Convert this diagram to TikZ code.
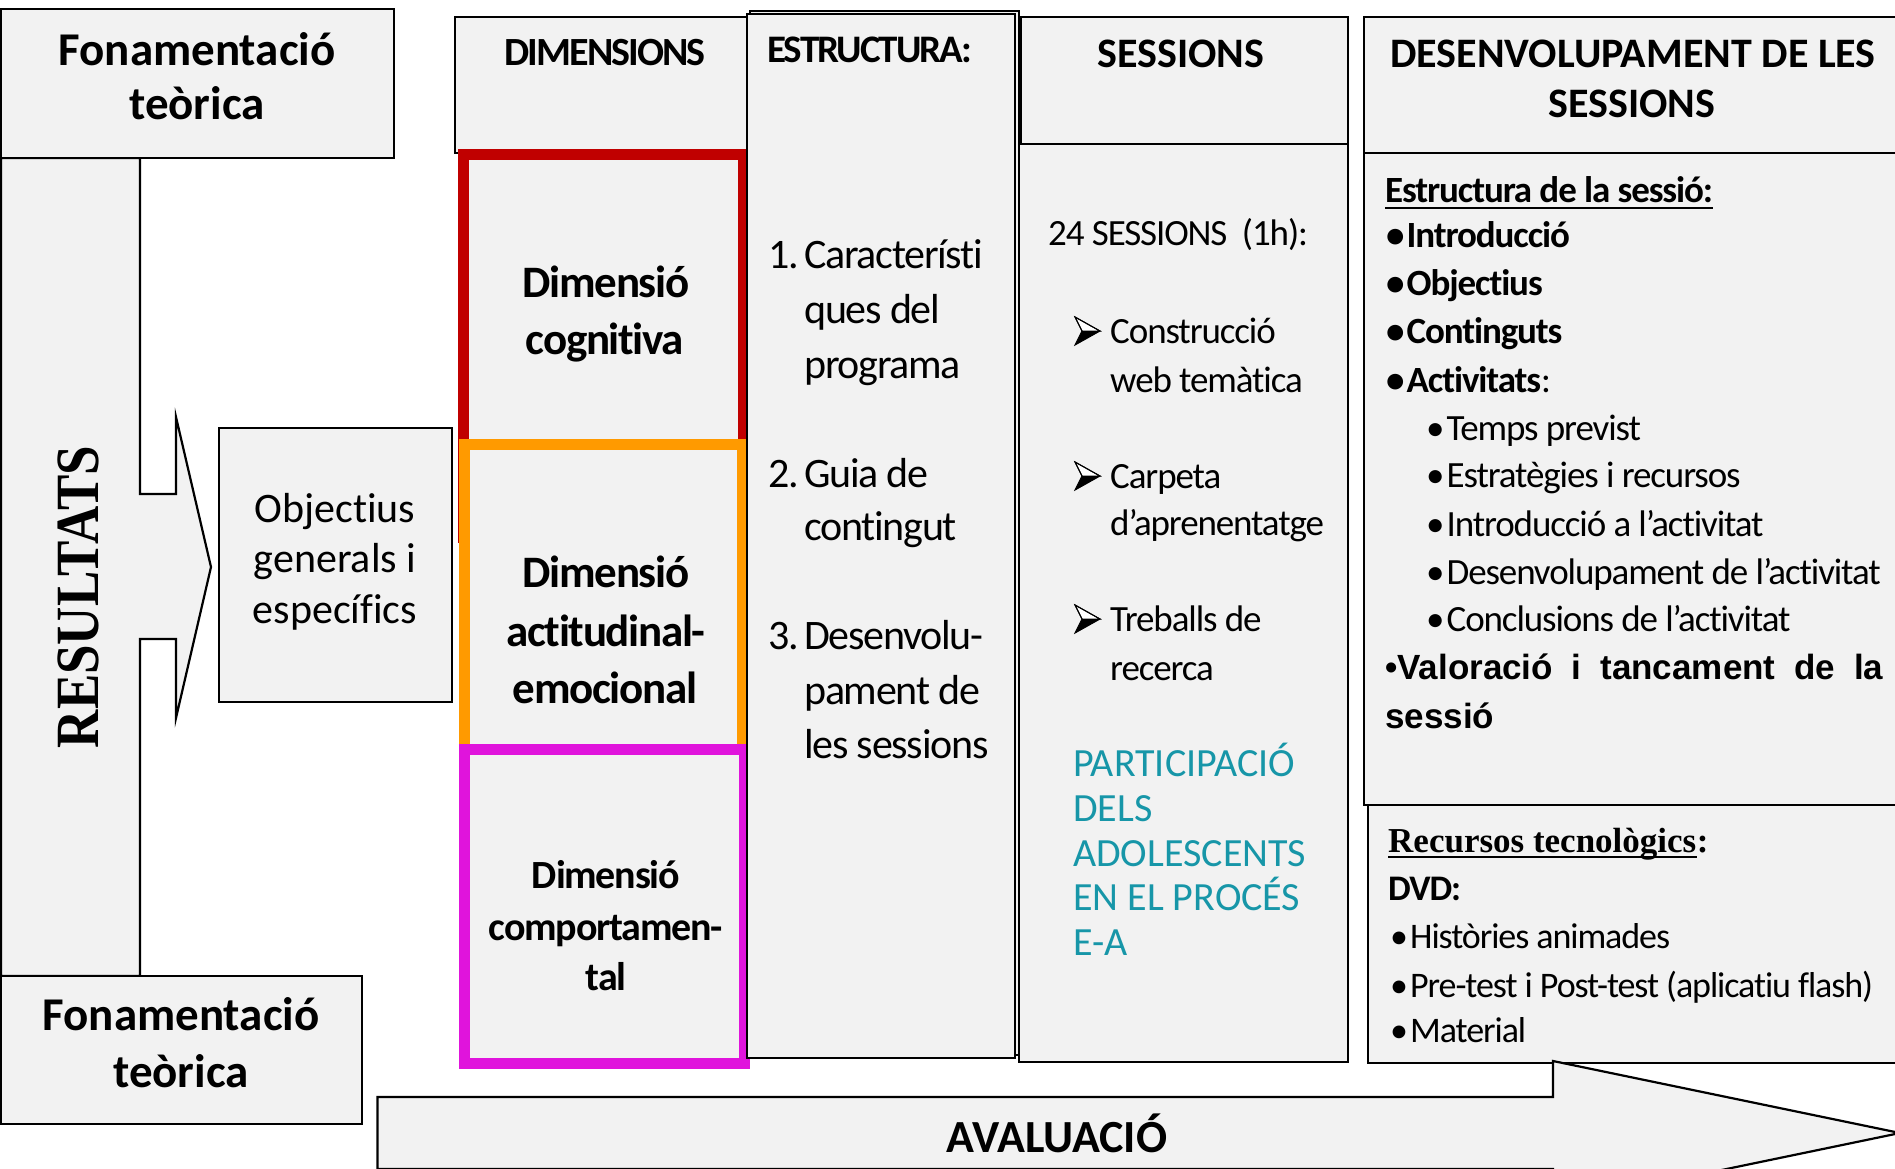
\documentclass[tikz,border=0pt]{standalone}
\usepackage{fontspec}
\setmainfont{Carlito}[Ligatures=NoCommon]
\newfontfamily\serifbf{Liberation Serif}
\newfontfamily\arialbf{Liberation Sans}
\definecolor{boxgray}{HTML}{F2F2F2}
\definecolor{dimred}{HTML}{C00000}
\definecolor{dimorange}{HTML}{FF9A00}
\definecolor{dimmagenta}{HTML}{E014DC}
\definecolor{teal}{RGB}{23,150,168}
\newcommand\fz[1]{\fontsize{#1}{#1}\selectfont}
\newcommand\tight[1]{\addfontfeature{LetterSpace=#1}}
\begin{document}
\begin{tikzpicture}[x=1pt,y=-1pt,
  box/.style={draw=black,line width=2.2pt,fill=boxgray},
  dimframe/.style={line width=11pt,fill=boxgray},
  tc/.style={inner sep=0pt,anchor=base},
  tw/.style={inner sep=0pt,anchor=base west},
  hbold/.style={font={\fz{#1}\bfseries}},
  hreg/.style={font={\fz{#1}}},
  tbold/.style 2 args={font={\fz{#1}\bfseries\tight{#2}}},
  treg/.style 2 args={font={\fz{#1}\tight{#2}}},
  arrowbullet/.pic={
    \draw[line width=1pt,fill=white,line join=miter] (0,-28) -- (25,-14) -- (7,-14) -- cycle;
    \fill[black] (7,-14) -- (25,-14) -- (0,0) -- cycle;
    \draw[line width=1pt] (0,-28) -- (25,-14) -- (0,0) -- (7,-14) -- cycle;
  },
]
\fill[white] (0,0) rectangle (1895,1168);
\useasboundingbox (0,0) rectangle (1895,1168);
\clip (0,0) rectangle (1895,1168);

% ---------- left column ----------
\draw[box] (1,158) -- (140,158) -- (140,494) -- (176,494) -- (176,417) -- (211,567)
  -- (176,718) -- (176,639) -- (140,639) -- (140,976) -- (1,976) -- cycle;
\draw[box] (1,9) rectangle (394,158);
\draw[box] (1,976) rectangle (362,1124);
\draw[box] (219,428) rectangle (452,702);

\node[tc,hbold=47] (fon1) at (197,65) {Fonamentació};
\node[tc,hbold=47] (fon2) at (197,119) {teòrica};
\node[tc,hbold=47] (fonb1) at (181,1030) {Fonamentació};
\node[tc,hbold=47] (fonb2) at (181,1087) {teòrica};
\node[inner sep=0pt,rotate=90] (res) at (78,597)
  {\scalebox{1}[1.16]{\serifbf\fz{53}\bfseries RESULTATS}};
\node[tc,hreg=42] (obj1) at (335,522) {Objectius};
\node[tc,hreg=42] (obj2) at (335,572) {generals i};
\node[tc,hreg=42] (obj3) at (335,623) {específics};

% ---------- dimensions ----------
\draw[box] (455,17) rectangle (747,153);
\node[tc,tbold={40}{-5}] (dim) at (605,65) {DIMENSIONS};
\draw[dimframe,draw=dimred] (463.5,154) rectangle (743.5,537);
\draw[dimframe,draw=dimorange] (464.5,444.5) rectangle (742,749);
\draw[dimframe,draw=dimmagenta] (464.5,749) rectangle (744,1063);

\node[tc,tbold={45}{-3}] (d1a) at (606,297) {Dimensió};
\node[tc,tbold={45}{-3}] (d1b) at (605,354) {cognitiva};
\node[tc,tbold={45}{-3}] (d2a) at (606,587) {Dimensió};
\node[tc,tbold={45}{-3}] (d2b) at (606,646) {actitudinal-};
\node[tc,tbold={45}{-3}] (d2c) at (605,703) {emocional};
\node[tc,tbold={40}{-3}] (d3a) at (606,888) {Dimensió};
\node[tc,tbold={40}{-3}] (d3b) at (606,940) {comportamen-};
\node[tc,tbold={40}{-3}] (d3c) at (606,990) {tal};

% ---------- estructura ----------
\draw[box] (750,11) rectangle (1019,1055);
\draw[box] (747,14) rectangle (1015,1058);
\node[tw,tbold={39}{-5}] (est) at (767,62) {ESTRUCTURA:};
\node[tw,treg={42}{-3}] (s1n) at (768,268) {1.};
\node[tw,treg={42}{-3}] (s1a) at (804,268) {Característi};
\node[tw,treg={42}{-3}] (s1b) at (804,323) {ques del};
\node[tw,treg={42}{-3}] (s1c) at (804,378) {programa};
\node[tw,treg={42}{-3}] (s2n) at (768,487) {2.};
\node[tw,treg={42}{-3}] (s2a) at (804,487) {Guia de};
\node[tw,treg={42}{-3}] (s2b) at (804,540) {contingut};
\node[tw,treg={42}{-3}] (s3n) at (768,649) {3.};
\node[tw,treg={42}{-3}] (s3a) at (804,649) {Desenvolu-};
\node[tw,treg={42}{-3}] (s3b) at (804,704) {pament de};
\node[tw,treg={42}{-3}] (s3c) at (804,758) {les sessions};

% ---------- sessions ----------
\draw[box] (1019,144) rectangle (1348,1062);
\draw[box] (1021,17) rectangle (1348,144);
\node[tc,hbold=42] (ses) at (1181,67) {SESSIONS};
\node[tw,treg={37}{-3}] (s24) at (1048,245) {24 SESSIONS\ \ (1h):};
\pic at (1075,345) {arrowbullet};
\node[tw,treg={37}{-3}] (c1a) at (1110,343) {Construcció};
\node[tw,treg={37}{-3}] (c1b) at (1110,392) {web temàtica};
\pic at (1075,490) {arrowbullet};
\node[tw,treg={37}{-3}] (c2a) at (1110,488) {Carpeta};
\node[tw,treg={37}{-3}] (c2b) at (1110,535) {d’aprenentatge};
\pic at (1075,633) {arrowbullet};
\node[tw,treg={37}{-3}] (c3a) at (1110,631) {Treballs de};
\node[tw,treg={37}{-3}] (c3b) at (1110,680) {recerca};
\node[tw,hreg=40,text=teal] (p1) at (1073,776) {PARTICIPACIÓ};
\node[tw,hreg=40,text=teal] (p2) at (1073,821) {DELS};
\node[tw,hreg=40,text=teal] (p3) at (1073,866) {ADOLESCENTS};
\node[tw,hreg=40,text=teal] (p4) at (1073,910) {EN EL PROCÉS};
\node[tw,hreg=40,text=teal] (p5) at (1073,955) {E-A};

% ---------- desenvolupament ----------
\draw[box] (1364,153) rectangle (1905,805);
\draw[box] (1364,17) rectangle (1905,153);
\draw[box] (1368,805) rectangle (1905,1063);
\node[tc,hbold=42] (des1) at (1633,67) {DESENVOLUPAMENT DE LES};
\node[tc,hbold=42] (des2) at (1632,117) {SESSIONS};

\node[tw,tbold={37}{-3}] (r0) at (1385,202) {Estructura de la sessió:};
\draw[line width=2.4pt] ([yshift=-6pt]r0.base west) -- ([yshift=-6pt]r0.base east);
\node[tw,tbold={37}{-3}] (r1) at (1386,247) {•\kern2pt Introducció};
\node[tw,tbold={37}{-3}] (r2) at (1386,295) {•\kern2pt Objectius};
\node[tw,tbold={37}{-3}] (r3) at (1386,343) {•\kern2pt Continguts};
\node[tw,tbold={37}{-3}] (r4) at (1386,392) {•\kern2pt Activitats\mdseries:};
\node[tw,treg={37}{-3}] (r5) at (1426,440) {•\kern2pt Temps previst};
\node[tw,treg={37}{-3}] (r6) at (1426,487) {•\kern2pt Estratègies i recursos};
\node[tw,treg={37}{-3}] (r7) at (1426,536) {•\kern2pt Introducció a l'activitat};
\node[tw,treg={37}{-3}] (r8) at (1426,584) {•\kern2pt Desenvolupament de l’activitat};
\node[tw,treg={37}{-3}] (r9) at (1426,631) {•\kern2pt Conclusions de l’activitat};
\node[tw,font={\arialbf\fz{35}\bfseries}] (r10) at (1385,679)
  {\makebox[498pt][s]{•Valoració i tancament de la}};
\node[tw,font={\arialbf\fz{35}\bfseries}] (r11) at (1385,728) {sessió};

\node[tw,font={\serifbf\fz{35}\bfseries}] (rec) at (1388,852) {Recursos tecnològics};
\node[tw,font={\serifbf\fz{35}\bfseries}] (recc) at (rec.base east) {:};
\draw[line width=2pt] ([yshift=-5pt]rec.base west) -- ([yshift=-5pt]rec.base east);
\node[tw,tbold={36}{-3}] (dvd) at (1388,900) {DVD:};
\node[tw,treg={36}{-3}] (h1) at (1390,948) {•\kern2pt Històries animades};
\node[tw,treg={36}{-3}] (h2) at (1390,997) {•\kern2pt Pre-test i Post-test (aplicatiu flash)};
\node[tw,treg={36}{-3}] (h3) at (1390,1042) {•\kern2pt Material};

% ---------- avaluacio arrow ----------
\draw[box] (377.5,1097) -- (1553,1097) -- (1553,1061) -- (1900,1133) -- (1553,1205)
  -- (1553,1169) -- (377.5,1169) -- cycle;
\node[tc,hbold=46] (aval) at (1057,1152) {AVALUACIÓ};
\end{tikzpicture}
\end{document}
